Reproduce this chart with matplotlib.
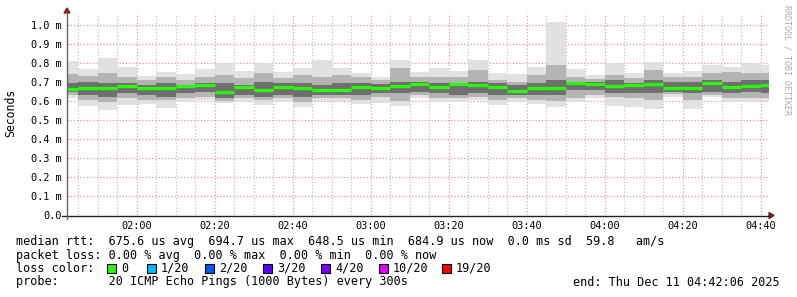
import matplotlib

matplotlib.use("Agg")
import matplotlib.pyplot as plt
from matplotlib.patches import Rectangle, Polygon

# --------------------------------------------------------------------------- #
# Data (milliseconds, one 5-minute step per entry starting 01:40)
# --------------------------------------------------------------------------- #
STEP_START_MIN = [100 + 5 * i for i in range(37)]  # minutes since midnight
MEDIAN = [0.665, 0.670, 0.670, 0.681, 0.670, 0.670, 0.682, 0.688, 0.651, 0.674,
          0.661, 0.675, 0.672, 0.661, 0.661, 0.674, 0.668, 0.682, 0.691, 0.677,
          0.691, 0.686, 0.674, 0.654, 0.672, 0.672, 0.695, 0.691, 0.682, 0.686,
          0.689, 0.672, 0.668, 0.695, 0.677, 0.682, 0.685]
OUT_LO = [0.619, 0.577, 0.554, 0.581, 0.586, 0.566, 0.598, 0.607, 0.589, 0.595,
          0.581, 0.595, 0.570, 0.602, 0.602, 0.584, 0.589, 0.577, 0.616, 0.598,
          0.598, 0.607, 0.581, 0.595, 0.584, 0.572, 0.595, 0.616, 0.577, 0.572,
          0.560, 0.625, 0.560, 0.625, 0.595, 0.595, 0.600]
OUT_HI = [0.812, 0.768, 0.828, 0.782, 0.733, 0.756, 0.744, 0.770, 0.800, 0.761,
          0.800, 0.752, 0.773, 0.817, 0.777, 0.751, 0.730, 0.817, 0.753, 0.777,
          0.760, 0.817, 0.747, 0.742, 0.782, 1.019, 0.770, 0.738, 0.800, 0.747,
          0.805, 0.747, 0.760, 0.791, 0.782, 0.800, 0.790]
MID_LO = [0.633, 0.607, 0.595, 0.616, 0.607, 0.607, 0.616, 0.625, 0.602, 0.616,
          0.607, 0.616, 0.595, 0.616, 0.616, 0.607, 0.625, 0.602, 0.633, 0.616,
          0.616, 0.625, 0.607, 0.616, 0.607, 0.602, 0.616, 0.633, 0.625, 0.616,
          0.607, 0.637, 0.607, 0.633, 0.616, 0.616, 0.620]
MID_HI = [0.742, 0.733, 0.747, 0.730, 0.712, 0.730, 0.712, 0.730, 0.738, 0.721,
          0.747, 0.721, 0.738, 0.730, 0.738, 0.730, 0.710, 0.773, 0.730, 0.730,
          0.730, 0.765, 0.712, 0.703, 0.738, 0.791, 0.730, 0.717, 0.738, 0.721,
          0.765, 0.730, 0.730, 0.747, 0.756, 0.747, 0.750]
CORE_LO = [0.650, 0.633, 0.625, 0.642, 0.633, 0.625, 0.642, 0.651, 0.616, 0.633,
           0.625, 0.633, 0.625, 0.633, 0.633, 0.633, 0.645, 0.642, 0.651, 0.642,
           0.633, 0.642, 0.633, 0.633, 0.633, 0.633, 0.660, 0.660, 0.642, 0.642,
           0.642, 0.651, 0.642, 0.647, 0.642, 0.647, 0.645]
CORE_HI = [0.695, 0.703, 0.695, 0.695, 0.686, 0.695, 0.686, 0.695, 0.695, 0.686,
           0.703, 0.695, 0.695, 0.686, 0.695, 0.695, 0.690, 0.703, 0.703, 0.695,
           0.695, 0.703, 0.695, 0.686, 0.695, 0.712, 0.703, 0.703, 0.712, 0.698,
           0.712, 0.703, 0.703, 0.712, 0.703, 0.712, 0.710]

X_TICKS = [120, 140, 160, 180, 200, 220, 240, 260, 280]
X_LABELS = ["02:00", "02:20", "02:40", "03:00", "03:20", "03:40", "04:00", "04:20", "04:40"]
Y_TICKS = [0.0, 0.1, 0.2, 0.3, 0.4, 0.5, 0.6, 0.7, 0.8, 0.9, 1.0]
Y_LABELS = ["0.0", "0.1 m", "0.2 m", "0.3 m", "0.4 m", "0.5 m", "0.6 m", "0.7 m",
            "0.8 m", "0.9 m", "1.0 m"]

LOSS_LABELS = ["0", "1/20", "2/20", "3/20", "4/20", "10/20", "19/20"]
LOSS_COLORS = ["#26ff00", "#00b8ff", "#0059ff", "#5e00ff", "#7e00ff", "#dd00ff", "#ff0000"]
LOSS_X = [107, 147, 205, 263, 321, 379, 442]

STATS_LINE = "median rtt:  675.6 us avg  694.7 us max  648.5 us min  684.9 us now  0.0 ms sd  59.8   am/s"
LOSS_LINE = "packet loss: 0.00 % avg  0.00 % max  0.00 % min  0.00 % now"
PROBE_LINE = "probe:       20 ICMP Echo Pings (1000 Bytes) every 300s"
END_LINE = "end: Thu Dec 11 04:42:06 2025"

T0, T1 = 102.1, 282.1
Y_MAX = 1.065

MONO = "DejaVu Sans Mono"
W, H = 797, 297
GRID = "#c4c4c4"
MGRID = "#e89a9a"
ARROW = "#801f1f"
AXIS = "#1f1f1f"

fig = plt.figure(figsize=(W / 100, H / 100), dpi=100)
fig.patch.set_facecolor("white")
L, R, TOP, BOT = 67, 769, 13, 215.3
ax = fig.add_axes([L / W, 1 - BOT / H, (R - L) / W, (BOT - TOP) / H])
ax.set_xlim(T0, T1)
ax.set_ylim(0, Y_MAX)
ax.set_facecolor("white")
for s in ax.spines.values():
    s.set_visible(False)

# grid: minor every 5 min, major every 20 min, horizontal every 0.1 ms
for m in range(105, 285, 5):
    if m % 20 == 0:
        continue
    ax.axvline(m, color=GRID, lw=0.9, ls=(0, (1, 1.6)), zorder=1)
for m in X_TICKS:
    ax.axvline(m, color=MGRID, lw=0.9, ls=(0, (1, 1.6)), zorder=1)
for v in Y_TICKS[1:]:
    ax.axhline(v, color=MGRID, lw=0.9, ls=(0, (1, 1.6)), zorder=1)

# smoke
for i, t in enumerate(STEP_START_MIN):
    for lo, hi, col in ((OUT_LO, OUT_HI, "#dddddd"),
                        (MID_LO, MID_HI, "#a9a9a9"),
                        (CORE_LO, CORE_HI, "#5e5e5e")):
        ax.add_patch(Rectangle((t, lo[i]), 5, hi[i] - lo[i], facecolor=col,
                               edgecolor="none", alpha=0.85 if col == "#dddddd" else 0.8,
                               zorder=2))
    ax.hlines(MEDIAN[i], t, t + 5, color=LOSS_COLORS[0], lw=2.3, zorder=4)

ax.set_xticks(X_TICKS)
ax.set_xticklabels(X_LABELS, fontfamily=MONO, fontsize=7.4)
ax.set_yticks(Y_TICKS)
ax.set_yticklabels(Y_LABELS, fontfamily=MONO, fontsize=7.4)
ax.tick_params(length=0, pad=4)
for lab in ax.get_yticklabels():
    lab.set_horizontalalignment("right")

# axes lines + arrows (figure pixel coords)
def px(x, y):
    return x / W, 1 - y / H

fig.add_artist(plt.Line2D([px(62, 0)[0], px(770, 0)[0]], [px(0, 215.5)[1]] * 2,
                          color=AXIS, lw=1.0))
fig.add_artist(plt.Line2D([px(67, 0)[0]] * 2, [px(0, 219)[1], px(0, 12)[1]],
                          color="#666666", lw=1.0))
fig.add_artist(Polygon([px(769, 212.5), px(774, 215.5), px(769, 218.5)],
                       closed=True, color=ARROW, transform=fig.transFigure))
fig.add_artist(Polygon([px(64, 13), px(67, 8), px(70, 13)],
                       closed=True, color=ARROW, transform=fig.transFigure))

fig.text(*px(11, 113), "Seconds", rotation=90, fontfamily=MONO, fontsize=8.3,
         ha="center", va="center")
fig.text(*px(787, 5), "RRDTOOL / TOBI OETIKER", rotation=270, fontfamily=MONO,
         fontsize=6.0, color="#aaaaaa", ha="center", va="top")

# legend block
fs = 8.5
fig.text(*px(16, 241), STATS_LINE, fontfamily=MONO, fontsize=fs, va="center")
fig.text(*px(16, 255), LOSS_LINE, fontfamily=MONO, fontsize=fs, va="center")
fig.text(*px(16, 268), "loss color:", fontfamily=MONO, fontsize=fs, va="center")
for x, c, lab in zip(LOSS_X, LOSS_COLORS, LOSS_LABELS):
    x0, y0 = px(x, 272.5)
    fig.add_artist(Rectangle((x0, y0), 9 / W, 9 / H, facecolor=c, edgecolor="black",
                             lw=0.8, transform=fig.transFigure))
    fig.text(*px(x + 14, 268), lab, fontfamily=MONO, fontsize=fs, va="center")
fig.text(*px(16, 282), PROBE_LINE, fontfamily=MONO, fontsize=fs, va="center")
fig.text(*px(780, 282), END_LINE, fontfamily=MONO, fontsize=fs, va="center", ha="right")

fig.savefig("out.png", dpi=100, facecolor="white")
